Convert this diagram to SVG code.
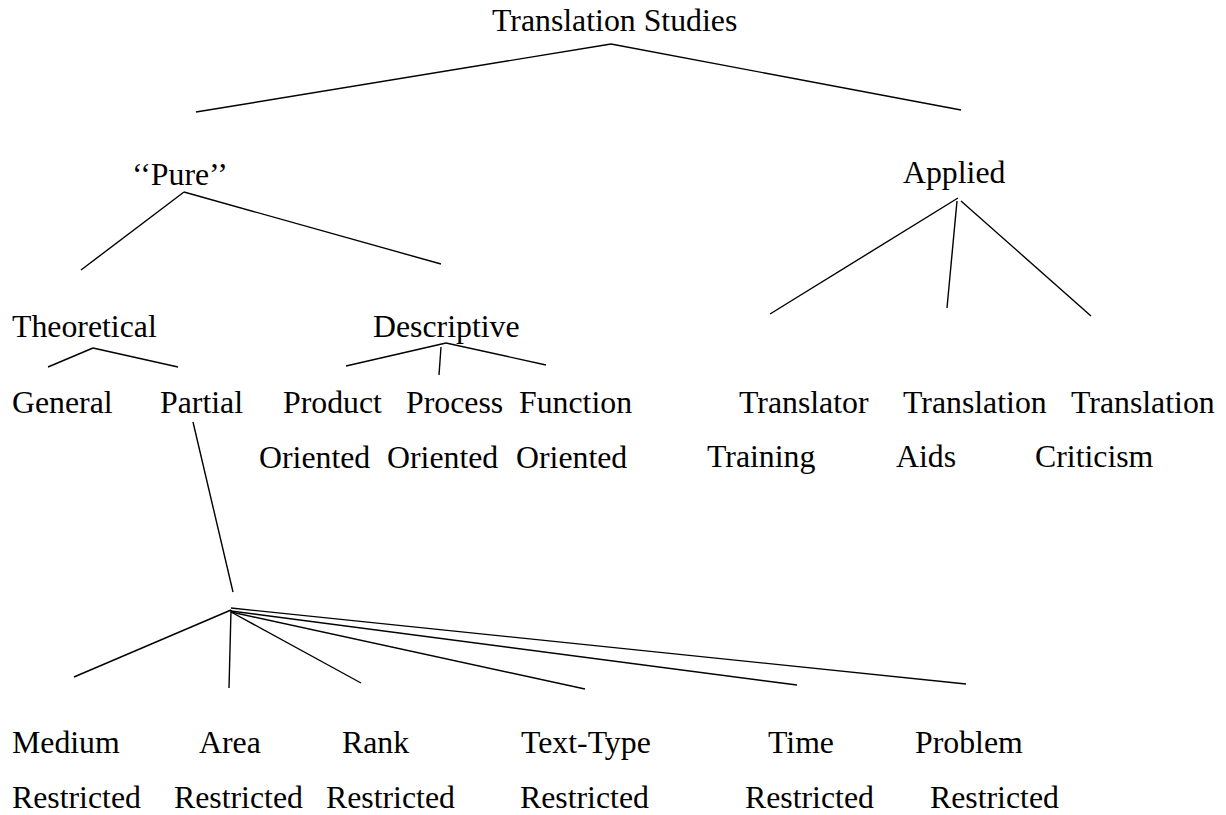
<svg xmlns="http://www.w3.org/2000/svg" width="1226" height="815" viewBox="0 0 1226 815">
<style>
text{font-family:"Liberation Serif","Times New Roman",serif;font-size:31.8px;fill:#000}
line{stroke:#000;stroke-width:1.4}
</style>
<rect width="1226" height="815" fill="#fff"/>
<g id="connectors">
<line x1="611" y1="44" x2="196" y2="112"/>
<line x1="611" y1="44" x2="961" y2="110"/>
<line x1="184" y1="192" x2="81" y2="270"/>
<line x1="184" y1="192" x2="441" y2="264"/>
<line x1="93" y1="348" x2="48" y2="367"/>
<line x1="93" y1="348" x2="178" y2="367"/>
<line x1="446" y1="343" x2="346" y2="366"/>
<line x1="441" y1="347" x2="439" y2="375"/>
<line x1="446" y1="343" x2="546" y2="365"/>
<line x1="958" y1="198" x2="770" y2="314"/>
<line x1="957" y1="201" x2="947" y2="308"/>
<line x1="961" y1="201" x2="1091" y2="316"/>
<line x1="193" y1="422" x2="233" y2="592"/>
<line x1="231" y1="610" x2="74" y2="677"/>
<line x1="231" y1="610" x2="229" y2="688"/>
<line x1="231" y1="612" x2="361" y2="683"/>
<line x1="231" y1="612" x2="585" y2="689"/>
<line x1="231" y1="611" x2="797" y2="685"/>
<line x1="231" y1="608" x2="966" y2="684"/>
</g>
<g id="n-translation-studies"><text x="492" y="31">Translation Studies</text></g>
<g id="n-pure"><text x="132" y="185">‘‘Pure’’</text></g>
<g id="n-applied"><text x="903" y="183">Applied</text></g>
<g id="n-theoretical"><text x="12" y="337">Theoretical</text></g>
<g id="n-descriptive"><text x="373" y="337">Descriptive</text></g>
<g id="n-general"><text x="12" y="413">General</text></g>
<g id="n-partial"><text x="160" y="413">Partial</text></g>
<g id="n-product"><text x="283" y="413">Product</text><text x="259" y="468">Oriented</text></g>
<g id="n-process"><text x="406" y="413">Process</text><text x="387" y="468">Oriented</text></g>
<g id="n-function"><text x="519" y="413">Function</text><text x="516" y="468">Oriented</text></g>
<g id="n-translator-training"><text x="739" y="413">Translator</text><text x="707" y="467">Training</text></g>
<g id="n-translation-aids"><text x="903" y="413">Translation</text><text x="896" y="467">Aids</text></g>
<g id="n-translation-criticism"><text x="1071" y="413">Translation</text><text x="1035" y="467">Criticism</text></g>
<g id="n-medium"><text x="12" y="753">Medium</text><text x="12" y="808">Restricted</text></g>
<g id="n-area"><text x="199" y="753">Area</text><text x="174" y="808">Restricted</text></g>
<g id="n-rank"><text x="342" y="753">Rank</text><text x="326" y="808">Restricted</text></g>
<g id="n-text-type"><text x="521" y="753">Text-Type</text><text x="520" y="808">Restricted</text></g>
<g id="n-time"><text x="768" y="753">Time</text><text x="745" y="808">Restricted</text></g>
<g id="n-problem"><text x="915" y="753">Problem</text><text x="930" y="808">Restricted</text></g>
</svg>
